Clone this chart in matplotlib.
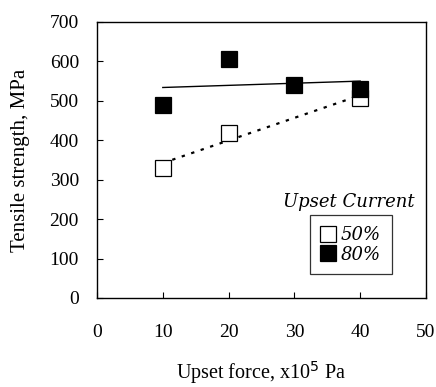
import numpy as np
import matplotlib
matplotlib.use("Agg")
import matplotlib.pyplot as plt
from matplotlib.lines import Line2D

# Data
x50 = [10, 20, 40]
y50 = [330, 418, 508]
x80 = [10, 20, 30, 40]
y80 = [490, 607, 541, 530]
xticks = [0, 10, 20, 30, 40, 50]
yticks = [0, 100, 200, 300, 400, 500, 600, 700]
labels = ["50%", "80%"]

serif = ["Liberation Serif", "DejaVu Serif"]
plt.rcParams['font.family'] = serif

fig = plt.figure(figsize=(4.36, 3.87), dpi=100)
ax = fig.add_axes([97/436, 1-298/387, (426-97)/436, (298-22)/387])

# trend lines (linear fits)
p50 = np.polyfit(x50, y50, 1)
p80 = np.polyfit(x80, y80, 1)
xs50 = np.array([min(x50), max(x50)])
xs80 = np.array([min(x80), max(x80)])
ax.plot(xs50, np.polyval(p50, xs50), color='black', lw=1.6, ls=(0, (1.5, 3)), zorder=1)
ax.plot(xs80, np.polyval(p80, xs80), color='black', lw=1.0, ls='-', zorder=1)

ax.plot(x50, y50, ls='none', marker='s', ms=12, mfc='white', mec='black', mew=0.9, zorder=3)
ax.plot(x80, y80, ls='none', marker='s', ms=12, mfc='black', mec='black', mew=0.9, zorder=4)

ax.set_xlim(0, 50)
ax.set_ylim(0, 700)
ax.set_xticks(xticks)
ax.set_yticks(yticks)
ax.tick_params(direction='in', length=4, width=0.8, labelsize=14)
ax.tick_params(axis='x', pad=19)
ax.tick_params(axis='y', pad=13)
for s in ax.spines.values():
    s.set_linewidth(1.0)

ax.set_xlabel("Upset force, x10$^5$ Pa", fontsize=14.5, labelpad=13)
ax.set_ylabel("Tensile strength, MPa", fontsize=15, labelpad=14)

# legend
handles = [Line2D([], [], ls='none', marker='s', ms=12, mfc='white', mec='black', mew=0.9),
           Line2D([], [], ls='none', marker='s', ms=12, mfc='black', mec='black', mew=0.9)]
leg = ax.legend(handles, labels, loc='upper left', bbox_to_anchor=((310-97)/329, (298-215)/276),
                borderaxespad=0, frameon=True, fancybox=False, edgecolor='black',
                handlelength=0.8, handletextpad=0.3, borderpad=0.6, labelspacing=0.1,
                prop={'family': 'DejaVu Serif', 'style': 'italic', 'size': 13})
leg.get_frame().set_linewidth(0.9)
ax.text(0.965, (298-202)/276, "Upset Current", transform=ax.transAxes, ha='right', va='center',
        fontsize=13, fontstyle='italic', family='DejaVu Serif')

fig.savefig("out.png", dpi=100)
